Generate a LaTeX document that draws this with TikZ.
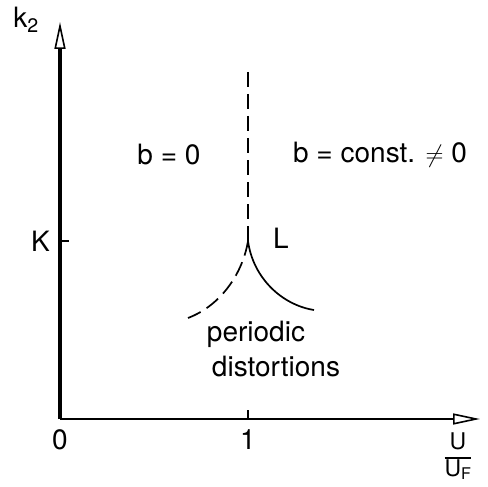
\documentclass[tikz,border=0pt]{standalone}
\usepackage{fontspec}
\setmainfont{TeX Gyre Heros}
\usetikzlibrary{arrows.meta}
\tikzset{
  axis/.style={line width=3.2pt,-{Triangle[open,length=27pt,width=11pt,line width=1.6pt]}},
  lbl/.style={inner sep=0pt,font=\fontsize{28}{30}\selectfont},
  small/.style={inner sep=0pt,font=\fontsize{23}{25}\selectfont},
  bound/.style={line width=1.7pt},
  dashbound/.style={line width=1.7pt,dash pattern=on 15pt off 7pt}
}
\begin{document}
\begin{tikzpicture}[x=1pt,y=-1pt]
\useasboundingbox (0,0) rectangle (488,487);
\coordinate (O) at (60,419);
\coordinate (ytip) at (60,22);
\coordinate (xtip) at (480,419);
\coordinate (L) at (248,241);
\coordinate (vtop) at (248,72);
\coordinate (one) at (248,419);
\coordinate (onetop) at (248,410);
\coordinate (kk) at (60,241);
\coordinate (kkr) at (69,241);
\coordinate (dend) at (188,318);
\coordinate (send) at (314,310);
\draw[axis] (O) -- (ytip);
\draw[axis,line width=2.4pt] (O) -- (xtip);
\draw[line width=1.6pt] (one) -- (onetop);
\draw[line width=1.6pt] (kk) -- (kkr);
\draw[dashbound] (vtop) -- (L);
\draw[dashbound] (L) .. controls (243,272) and (222,305) .. (dend);
\draw[bound] (L) .. controls (253,278) and (282,305) .. (send);
\node[lbl] (k2) at (26,20) {k\textsubscript{2}};
\node[lbl,anchor=east] (K) at (50,241) {K};
\node[lbl] (Ll) at (281,238) {L};
\node[lbl] (b0) at (169,155) {b = 0};
\node[lbl] (bc) at (380,155) {b = const. $\neq$ 0};
\node[lbl] (per) at (256,334) {periodic};
\node[lbl] (dis) at (276,367) {distortions};
\node[lbl] (zero) at (60,440) {0};
\node[lbl] (onel) at (248,440) {1};
\node[small] (frac) at (458,458) {\setlength{\arrayrulewidth}{1.5pt}\begin{tabular}{@{}c@{}}U\\\hline U\textsubscript{F}\end{tabular}};
\end{tikzpicture}
\end{document}
